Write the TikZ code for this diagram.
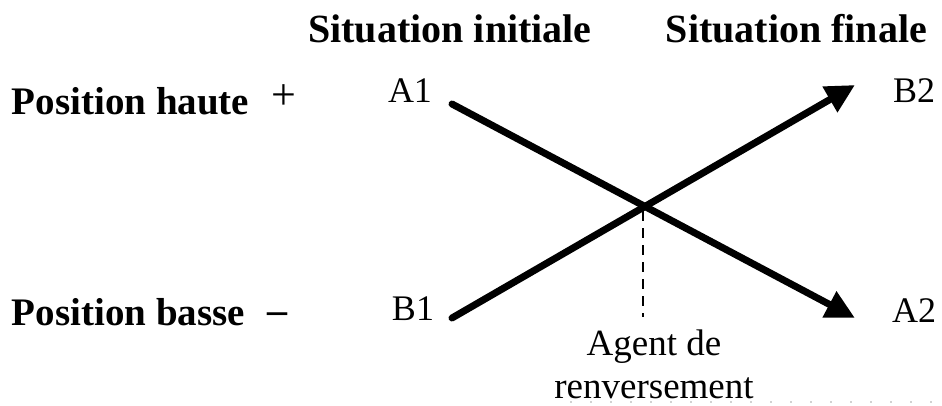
\documentclass[tikz,border=0pt]{standalone}
\usepackage{fontspec}
\setmainfont{Liberation Serif}
\usetikzlibrary{arrows.meta}
\tikzset{
  txt/.style={inner sep=0pt, outer sep=0pt, anchor=base},
  head/.style={txt, font=\bfseries\fontsize{40}{48}\selectfont},
  poslab/.style={txt, anchor=base west, font=\bfseries\fontsize{39}{47}\selectfont},
  sign/.style={txt, font=\fontsize{44}{52}\selectfont},
  pt/.style={txt, font=\fontsize{36}{42}\selectfont},
  agentlab/.style={txt, font=\fontsize{37}{44}\selectfont},
  bigarrow/.style={line width=7pt, line cap=round, -{Triangle[length=29pt,width=28pt]}},
  dashline/.style={line width=2.2pt, dash pattern=on 10pt off 7pt},
  scanline/.style={line width=1.2pt, gray!35, dash pattern=on 2pt off 18pt}
}
\begin{document}
\begin{tikzpicture}[x=1pt,y=-1pt]
  \useasboundingbox (0,0) rectangle (942,406);
  \fill[white] (0,0) rectangle (942,406);
  % faint scan artefact
  \coordinate (s1) at (570,402);
  \coordinate (s2) at (942,402);
  \draw[scanline] (s1) -- (s2);
  % headings
  \node[head] (hinit) at (450,43) {Situation initiale};
  \node[head] (hfin) at (796.5,43) {Situation finale};
  % left labels
  \node[poslab] (ph) at (12,115) {Position haute};
  \node[sign] (plus) at (284,110) {+};
  \node[poslab] (pb) at (12,325) {Position basse};
  \node[txt, font=\bfseries\fontsize{40}{48}\selectfont] (minus) at (277.5,323) {--};
  % point labels
  \node[pt] (A1) at (410,103) {A1};
  \node[pt] (B2) at (914,103) {B2};
  \node[pt] (B1) at (413,320) {B1};
  \node[pt] (A2) at (914,322) {A2};
  % arrow end points
  \coordinate (a1s) at (452,104);
  \coordinate (a2e) at (855,318);
  \coordinate (b1s) at (452,318);
  \coordinate (b2e) at (855,85);
  \draw[bigarrow] (a1s) -- (a2e);
  \draw[bigarrow] (b1s) -- (b2e);
  % agent
  \coordinate (cross) at (643,211);
  \coordinate (dashend) at (643,317);
  \draw[dashline] (cross) -- (dashend);
  \node[agentlab] (agent) at (654,355) {Agent de};
  \node[agentlab] (agentb) at (654,398) {renversement};
\end{tikzpicture}
\end{document}
